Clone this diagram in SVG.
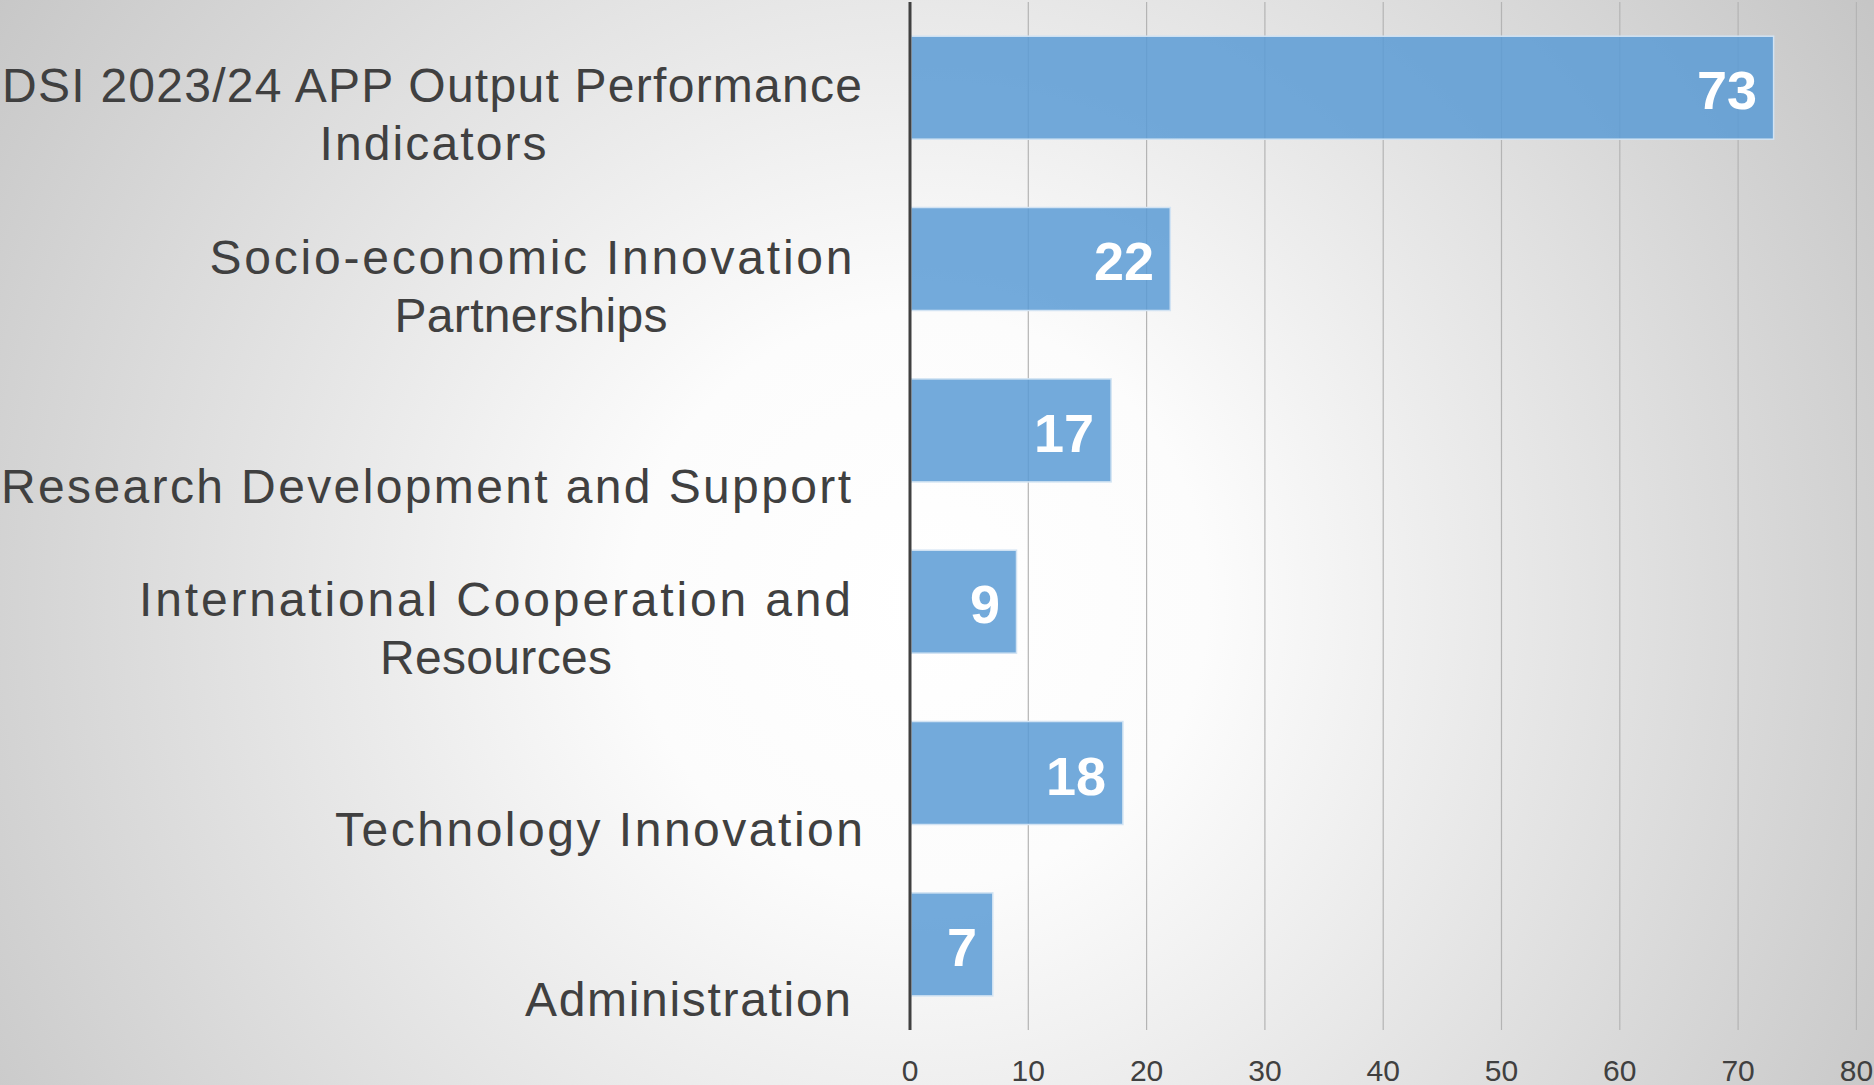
<svg xmlns="http://www.w3.org/2000/svg" width="1874" height="1085" viewBox="0 0 1874 1085">
<style>
.cat{font-family:"Liberation Sans",Arial,sans-serif;font-size:48px;fill:#404040;text-anchor:middle}
.val{font-family:"Liberation Sans",Arial,sans-serif;font-size:54px;font-weight:bold;fill:#FFFFFF;text-anchor:end}
.tick{font-family:"Liberation Sans",Arial,sans-serif;font-size:30px;fill:#404040;text-anchor:middle}
.bar{fill:#5B9BD5;fill-opacity:0.85;stroke:#D2E3F3;stroke-width:1.5}
.grid{stroke:#B4B4B4;stroke-width:1.2}
</style>
<defs>
<radialGradient id="bg" gradientUnits="userSpaceOnUse" cx="920" cy="600" r="1150">
<stop offset="0" stop-color="#FFFFFF"/>
<stop offset="0.25" stop-color="#FCFCFC"/>
<stop offset="1" stop-color="#C4C4C4"/>
</radialGradient>
</defs>
<rect x="0" y="0" width="1874" height="1085" fill="url(#bg)"/>
<g id="gridlines">
<line class="grid" x1="1028.3" y1="2" x2="1028.3" y2="1030"/>
<line class="grid" x1="1146.6" y1="2" x2="1146.6" y2="1030"/>
<line class="grid" x1="1264.9" y1="2" x2="1264.9" y2="1030"/>
<line class="grid" x1="1383.2" y1="2" x2="1383.2" y2="1030"/>
<line class="grid" x1="1501.5" y1="2" x2="1501.5" y2="1030"/>
<line class="grid" x1="1619.8" y1="2" x2="1619.8" y2="1030"/>
<line class="grid" x1="1738.1" y1="2" x2="1738.1" y2="1030"/>
<line class="grid" x1="1856.4" y1="2" x2="1856.4" y2="1030"/>
</g>
<g id="cat-dsi">
<rect class="bar" x="911" y="36.2" width="862.6" height="103"/>
<text class="val" x="1757" y="109">73</text>
<text class="cat" x="432" y="102" textLength="860">DSI 2023/24 APP Output Performance</text>
<text class="cat" x="433" y="160" textLength="227">Indicators</text>
</g>
<g id="cat-socio">
<rect class="bar" x="911" y="207.5" width="259.3" height="103"/>
<text class="val" x="1154" y="280">22</text>
<text class="cat" x="531" y="273.5" textLength="643">Socio-economic Innovation</text>
<text class="cat" x="531" y="331.5" textLength="273">Partnerships</text>
</g>
<g id="cat-research">
<rect class="bar" x="911" y="378.9" width="200.1" height="103"/>
<text class="val" x="1094" y="452">17</text>
<text class="cat" x="426" y="503" textLength="850">Research Development and Support</text>
</g>
<g id="cat-international">
<rect class="bar" x="911" y="550.2" width="105.5" height="103"/>
<text class="val" x="1000" y="623">9</text>
<text class="cat" x="495" y="616" textLength="712">International Cooperation and</text>
<text class="cat" x="496" y="674" textLength="232">Resources</text>
</g>
<g id="cat-technology">
<rect class="bar" x="911" y="721.5" width="211.9" height="103"/>
<text class="val" x="1106" y="795">18</text>
<text class="cat" x="599" y="846" textLength="528">Technology Innovation</text>
</g>
<g id="cat-admin">
<rect class="bar" x="911" y="892.9" width="81.8" height="103"/>
<text class="val" x="977" y="966">7</text>
<text class="cat" x="688" y="1016" textLength="326">Administration</text>
</g>
<g id="axis">
<line x1="910" y1="2" x2="910" y2="1030" stroke="#404040" stroke-width="3"/>
<text class="tick" x="910" y="1081">0</text>
<text class="tick" x="1028.3" y="1081">10</text>
<text class="tick" x="1146.6" y="1081">20</text>
<text class="tick" x="1264.9" y="1081">30</text>
<text class="tick" x="1383.2" y="1081">40</text>
<text class="tick" x="1501.5" y="1081">50</text>
<text class="tick" x="1619.8" y="1081">60</text>
<text class="tick" x="1738.1" y="1081">70</text>
<text class="tick" x="1856.4" y="1081">80</text>
</g>
</svg>
